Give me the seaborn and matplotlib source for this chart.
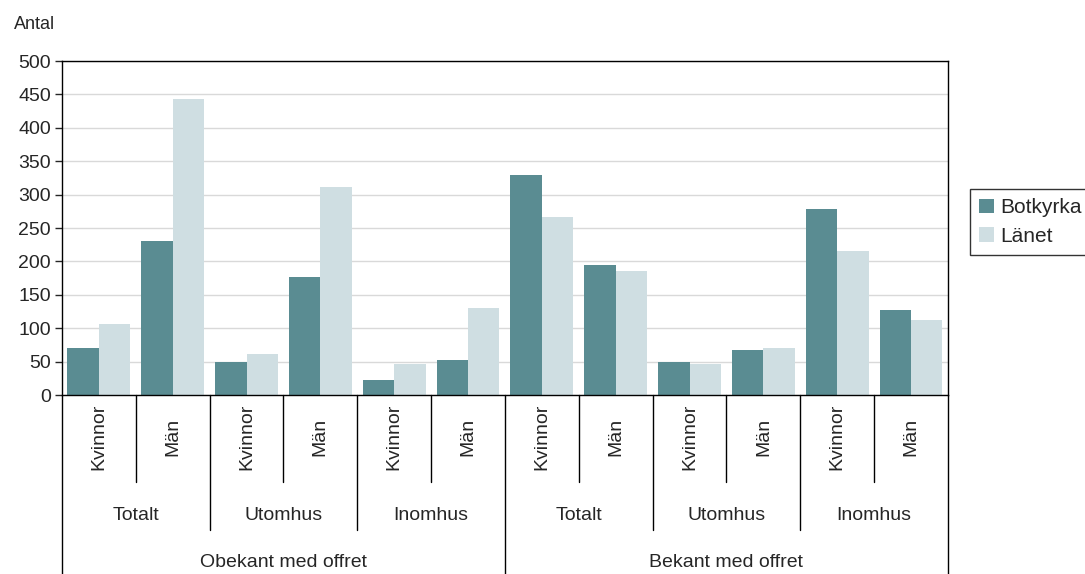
import pandas as pd
import matplotlib.pyplot as plt
import matplotlib.transforms as mtransforms
import seaborn as sns

# data
relation = ['Obekant med offret', 'Bekant med offret']
plats = ['Totalt', 'Utomhus', 'Inomhus']
kon = ['Kvinnor', 'Män']
botkyrka = [71, 230, 50, 176, 23, 53, 329, 194, 50, 68, 278, 128]
lanet = [107, 443, 62, 311, 47, 131, 266, 185, 47, 71, 215, 113]

# build long table with one unique key per category
keys = []
for r in relation:
    for p in plats:
        for k in kon:
            keys.append(r + '|' + p + '|' + k)
df = pd.DataFrame({
    'kategori': keys * 2,
    'serie': ['Botkyrka'] * len(keys) + ['Länet'] * len(keys),
    'antal': botkyrka + lanet,
})

sns.set_style('white')
plt.rcParams['font.family'] = ['Liberation Sans', 'DejaVu Sans']

fig = plt.figure(figsize=(10.85, 5.74), dpi=100)
ax = fig.add_axes([0.0571, 0.3118, 0.8166, 0.5819])

sns.barplot(data=df, x='kategori', y='antal', hue='serie', order=keys,
            palette={'Botkyrka': '#5a8c92', 'Länet': '#cfdee2'},
            width=0.85, saturation=1, linewidth=0, ax=ax)

ax.set_ylim(0, 500)
ax.set_xlim(-0.5, len(keys) - 0.5)
ax.set_yticks(range(0, 501, 50))
ax.tick_params(axis='y', labelsize=14, length=5, width=1, direction='out', left=True, pad=3)
ax.set_xticks([])
ax.set_xlabel('')
ax.set_ylabel('')
ax.yaxis.grid(True, color='#d9d9d9', linewidth=1)
ax.set_axisbelow(True)
for s in ax.spines.values():
    s.set_color('black')
    s.set_linewidth(1)

fig.text(0.013, 0.958, 'Antal', fontsize=13, va='center', ha='left')

# multi-level category axis
trans = mtransforms.blended_transform_factory(ax.transData, ax.transAxes)
lvl1, lvl2, lvl3 = -0.2605, -0.404, -0.54
for i in range(len(keys) + 1):
    x = i - 0.5
    if i % 6 == 0:
        y_end = lvl3
    elif i % 2 == 0:
        y_end = lvl2
    else:
        y_end = lvl1
    ax.plot([x, x], [0, y_end], transform=trans, color='black', lw=1, clip_on=False)

for i, key in enumerate(keys):
    ax.text(i, -0.125, key.split('|')[2], transform=trans, rotation=90,
            ha='center', va='center', fontsize=14)
for j in range(6):
    ax.text(2 * j + 0.5, -0.36, plats[j % 3], transform=trans,
            ha='center', va='center', fontsize=14)
for j in range(2):
    ax.text(6 * j + 2.5, -0.5, relation[j], transform=trans,
            ha='center', va='center', fontsize=14)

leg = ax.legend(loc='upper left', bbox_to_anchor=(1.025, 0.617), fontsize=15,
                frameon=True, fancybox=False, edgecolor='black',
                handlelength=0.7, handleheight=0.7, handletextpad=0.3,
                borderpad=0.45, labelspacing=0.45, borderaxespad=0)
leg.get_frame().set_linewidth(1)

fig.savefig('out.png', dpi=100)
